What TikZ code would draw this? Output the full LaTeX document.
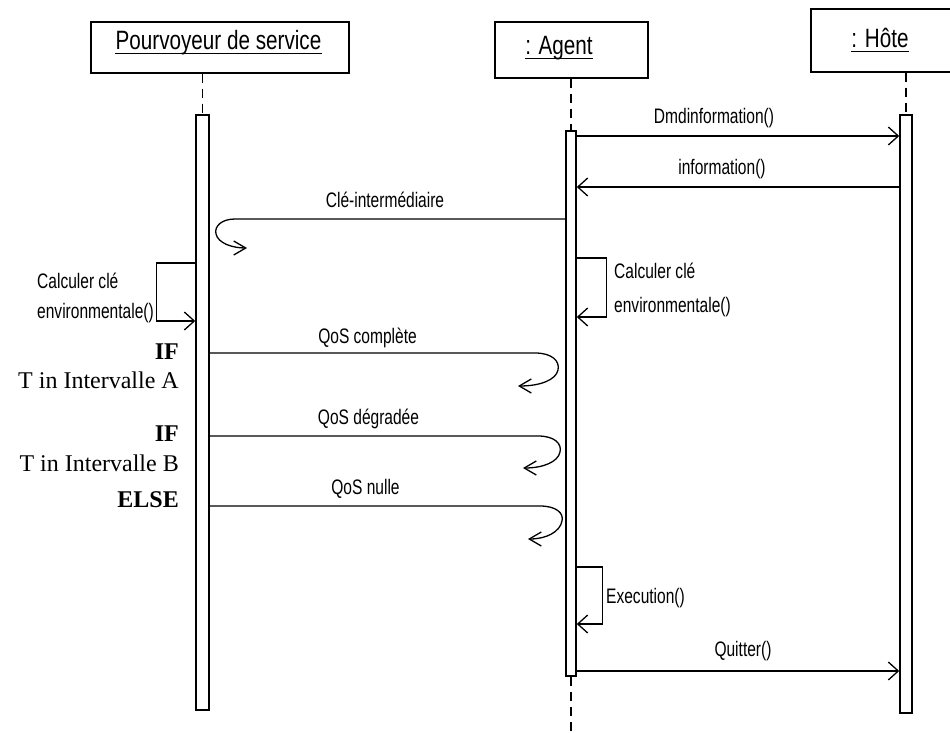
\documentclass[tikz,border=0pt]{standalone}
\usepackage{fontspec}
\setmainfont{Liberation Sans}
\newfontfamily\narrowsans[FakeStretch=0.74]{Liberation Sans}
\newfontfamily\headsans[FakeStretch=0.78]{Liberation Sans}
\newfontfamily\romanf{Liberation Serif}
\usetikzlibrary{arrows.meta}
\begin{document}
\begin{tikzpicture}[x=1pt,y=-1pt,
  headbox/.style={draw, line width=1.5pt, inner sep=0pt},
  bar/.style={draw, line width=1.5pt, fill=white, inner sep=0pt},
  headtxt/.style={font=\headsans\fontsize{26.5}{30}\selectfont, inner sep=0pt, anchor=base},
  lbl/.style={font=\narrowsans\fontsize{21}{25}\selectfont, inner sep=0pt, anchor=base},
  lblw/.style={lbl, anchor=base west},
  cond/.style={font=\romanf\fontsize{24}{28}\selectfont, inner sep=0pt, anchor=base east},
  condb/.style={cond, font=\romanf\bfseries\fontsize{24}{28}\selectfont},
  life/.style={line width=1.4pt, dash pattern=on 9pt off 6pt},
  msg/.style={line width=1.4pt, -{Straight Barb[length=10pt,width=18pt,line width=1.3pt]}},
  curl/.style={line width=1.3pt, -{Straight Barb[length=12pt,width=14pt,line width=1.3pt]}},
  uline/.style={line width=1.3pt}]

\path[use as bounding box] (0,0) rectangle (950,733);
\clip (0,0) rectangle (950,733);

% object heads
\node[headbox, minimum width=258pt, minimum height=51pt] (pv) at (220,47.5) {};
\node[headbox, minimum width=153pt, minimum height=56pt] (ag) at (571.5,50) {};
\node[headbox, minimum width=149pt, minimum height=63pt] (ho) at (885.5,40.5) {};

\node[headtxt] (pvt) at (218.5,50) {Pourvoyeur de service};
\node[headtxt] (agt) at (559,55) {: Agent};
\node[headtxt] (hot) at (880,48) {: Hôte};
\foreach \t in {pvt,agt,hot}
  \draw[uline] ([yshift=-3.5pt]\t.base west) -- ([yshift=-3.5pt]\t.base east);

% activation bars
\node[bar, minimum width=13pt, minimum height=595pt] (pvbar) at (202.5,412.5) {};
\node[bar, minimum width=10pt, minimum height=545pt] (agbar) at (571,403.5) {};
\node[bar, minimum width=12pt, minimum height=598pt] (hobar) at (906,414) {};

% lifelines
\coordinate (agend) at (571,733);
\draw[life] (pvbar.north |- pv.south) -- (pvbar.north);
\draw[life] (agbar.north |- ag.south) -- (agbar.north);
\draw[life] (agbar.south) -- (agend);
\draw[life] (hobar.north |- ho.south) -- (hobar.north);

% message levels
\coordinate (y1) at (0,136);
\coordinate (y2) at (0,187);
\coordinate (y3) at (0,219);
\coordinate (y4a) at (0,263);  \coordinate (y4b) at (0,321);
\coordinate (y5a) at (0,258);  \coordinate (y5b) at (0,317);
\coordinate (y6) at (0,353);
\coordinate (y7) at (0,436);
\coordinate (y8) at (0,506);
\coordinate (y9a) at (0,567);  \coordinate (y9b) at (0,624);
\coordinate (y10) at (0,671);

% Dmdinformation() / information()
\draw[msg] (agbar.east |- y1) -- (hobar.west |- y1);
\node[lbl] (l1) at (714,124) {Dmdinformation()};
\draw[msg] (hobar.west |- y2) -- (agbar.east |- y2);
\node[lbl] (l2) at (722,175) {information()};

% Clé-intermédiaire
\coordinate (c3) at (247,248);
\draw[curl] (agbar.west |- y3) -- (235,219)
  .. controls (222,219) and (214,226) .. (216,234)
  .. controls (218,243) and (232,248) .. (c3);
\node[lbl] (l3) at (385,207) {Clé-intermédiaire};

% Calculer clé environmentale() on both sides
\draw[msg] (pvbar.west |- y4a) -- ++(-39,0) -- ++(0,58) -- (pvbar.west |- y4b);
\node[lblw] (l4a) at (37,288) {Calculer clé};
\node[lblw] (l4b) at (37,318) {environmentale()};
\draw[msg] (agbar.east |- y5a) -- ++(30,0) -- ++(0,59) -- (agbar.east |- y5b);
\node[lblw] (l5a) at (614,278) {Calculer clé};
\node[lblw] (l5b) at (614,312) {environmentale()};

% QoS replies
\coordinate (c6) at (518,386);
\draw[curl] (pvbar.east |- y6) -- (535,353)
  .. controls (552,353) and (560,361) .. (558,370)
  .. controls (556,380) and (540,386) .. (c6);
\node[lbl] (l6) at (367.5,343) {QoS complète};

\coordinate (c7) at (523,468);
\draw[curl] (pvbar.east |- y7) -- (538,436)
  .. controls (555,436) and (562,444) .. (560,452)
  .. controls (558,462) and (543,468) .. (c7);
\node[lbl] (l7) at (368.5,424) {QoS dégradée};

\coordinate (c8) at (528,539);
\draw[curl] (pvbar.east |- y8) -- (540,506)
  .. controls (556,506) and (564,513) .. (562,521)
  .. controls (560,532) and (546,539) .. (c8);
\node[lbl] (l8) at (365.5,494) {QoS nulle};

% conditions
\node[condb] (k1) at (179,359) {IF};
\node[cond]  (k2) at (179,388) {T in Intervalle A};
\node[condb] (k3) at (179,441) {IF};
\node[cond]  (k4) at (179,471) {T in Intervalle B};
\node[condb] (k5) at (179,507) {ELSE};

% Execution() / Quitter()
\draw[msg] (agbar.east |- y9a) -- ++(26,0) -- ++(0,57) -- (agbar.east |- y9b);
\node[lblw] (l9) at (606,603) {Execution()};
\draw[msg] (agbar.east |- y10) -- (hobar.west |- y10);
\node[lbl] (l10) at (743,656) {Quitter()};
\end{tikzpicture}
\end{document}
